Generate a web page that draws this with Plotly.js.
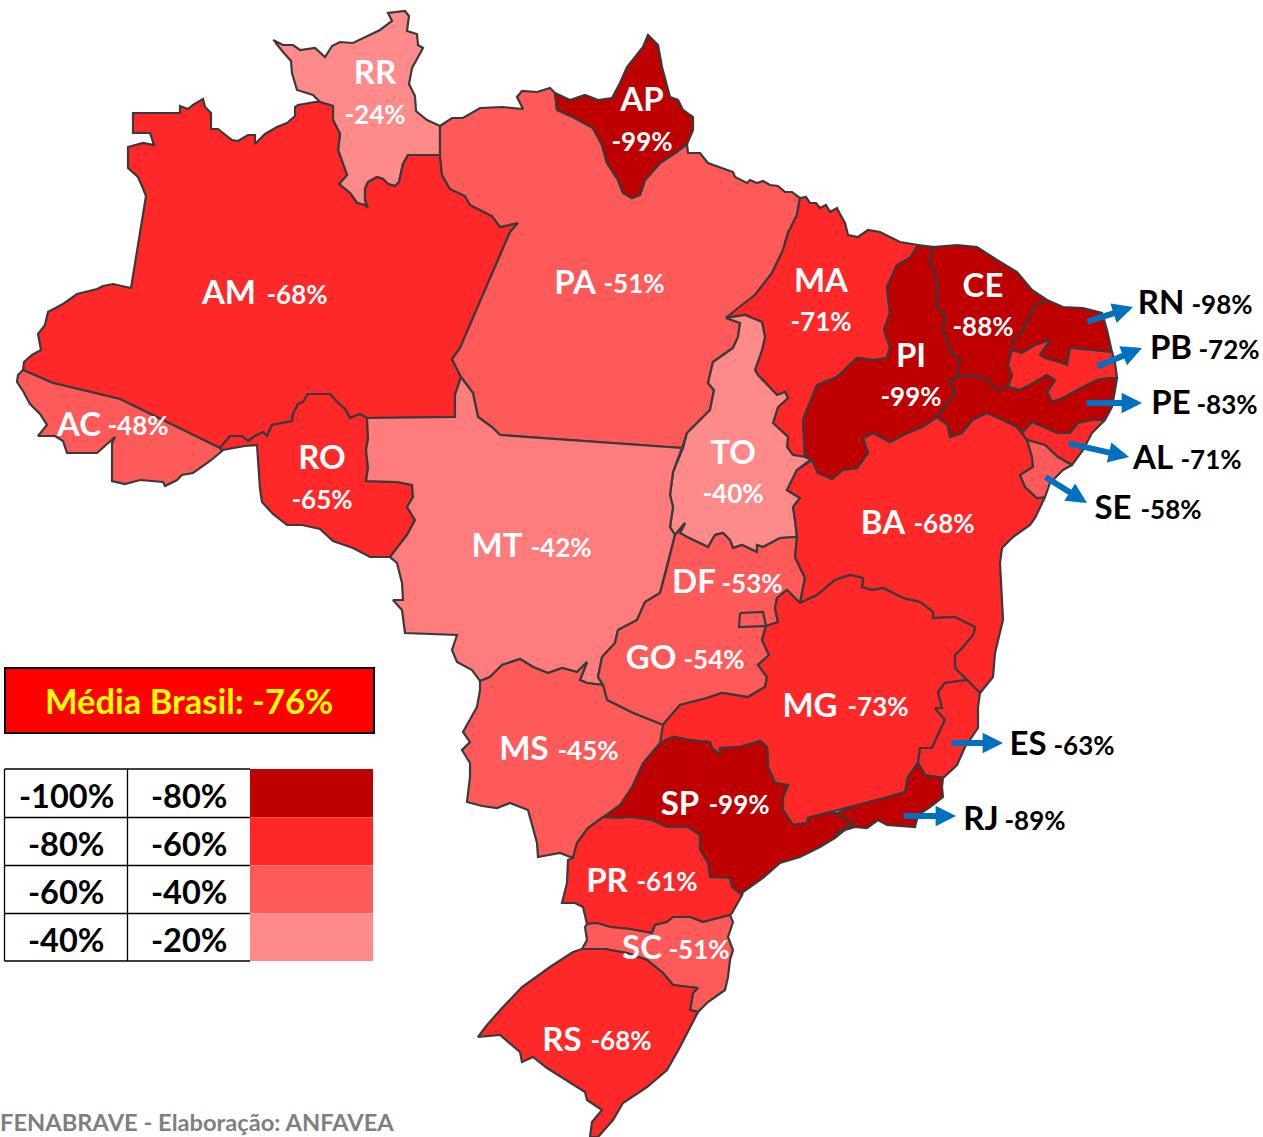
<!DOCTYPE html>
<html><head><meta charset="utf-8">
<script src="https://cdn.plot.ly/plotly-3.0.1.min.js"></script>
<style>html,body{margin:0;padding:0;background:#fff}#map{width:1263px;height:1137px}</style>
</head><body><div id="map"></div>
<script>
const RR=[[273,40],[283,45],[293,45],[300,50],[315,48],[325,57],[332,46],[340,42],[353,43],[367,36],[380,30],[392,21],[388,13],[405,11],[409,16],[407,31],[417,34],[418,45],[423,48],[417,59],[412,68],[409,84],[415,96],[416,111],[427,120],[440,126],[440,155],[408,155],[403,164],[399,182],[395,186],[388,184],[383,179],[377,177],[368,182],[365,189],[365,200],[368,208],[365,205],[357,203],[350,193],[339,184],[347,175],[342,161],[338,150],[340,134],[333,120],[333,106],[320,102],[313,95],[297,90],[292,73],[291,61],[283,52],[275,42]];
const AM=[[320,102],[315,102],[298,105],[295,107],[295,116],[287,123],[277,127],[265,134],[255,144],[255,135],[248,135],[238,141],[232,140],[218,129],[211,129],[211,113],[205,107],[203,99],[193,105],[188,109],[180,106],[180,113],[133,113],[133,133],[150,133],[154,145],[143,143],[128,147],[128,168],[138,177],[142,186],[146,196],[131,288],[122,286],[113,284],[103,286],[97,289],[77,294],[63,304],[48,312],[45,325],[38,334],[41,350],[32,355],[24,362],[23,370],[53,383],[120,399],[220,448],[230,436],[242,436],[248,441],[255,436],[263,432],[267,436],[272,425],[292,421],[293,414],[298,404],[303,402],[308,394],[330,394],[337,402],[345,409],[350,418],[360,414],[367,418],[455,417],[455,395],[461,377],[452,359],[460,348],[510,232],[518,223],[500,227],[492,216],[470,205],[465,196],[450,189],[442,175],[440,155],[408,155],[403,164],[399,182],[395,186],[388,184],[383,179],[377,177],[368,182],[365,189],[365,200],[368,208],[365,205],[357,203],[350,193],[339,184],[347,175],[342,161],[338,150],[340,134],[333,120],[333,106],[320,102]];
const AC=[[23,370],[53,383],[120,399],[220,448],[222,451],[210,461],[193,473],[182,475],[177,480],[165,486],[163,482],[140,480],[125,484],[112,481],[112,443],[115,437],[97,453],[67,453],[63,441],[55,436],[38,436],[47,425],[40,414],[30,404],[23,391],[17,382],[18,375],[23,370]];
const RO=[[220,448],[230,436],[242,436],[248,441],[255,436],[263,432],[267,436],[272,425],[292,421],[293,414],[298,404],[303,402],[308,394],[330,394],[337,402],[345,409],[350,418],[360,414],[367,418],[368,439],[366,450],[368,468],[366,481],[397,482],[412,485],[413,497],[407,507],[415,520],[407,535],[390,557],[370,557],[353,548],[333,541],[320,529],[302,525],[287,525],[273,514],[262,502],[260,489],[258,464],[257,445],[245,446],[222,450],[220,448]];
const PA=[[440,126],[452,118],[463,118],[480,108],[502,107],[523,109],[517,97],[522,91],[537,92],[550,88],[555,93],[557,110],[573,117],[593,128],[602,145],[607,163],[618,180],[623,193],[632,198],[640,195],[645,180],[660,163],[675,153],[687,144],[688,153],[700,153],[708,163],[722,168],[733,172],[735,177],[747,183],[750,180],[757,183],[763,181],[770,185],[778,186],[785,192],[792,192],[800,198],[797,215],[788,233],[783,250],[772,273],[755,295],[738,308],[726,318],[740,323],[738,337],[733,348],[713,362],[708,383],[714,390],[710,410],[687,433],[682,448],[500,435],[492,427],[478,417],[473,393],[461,377],[452,359],[460,348],[510,232],[518,223],[500,227],[492,216],[470,205],[465,196],[450,189],[442,175],[440,155],[440,126]];
const AP=[[555,93],[570,100],[585,95],[598,100],[612,98],[620,83],[627,67],[643,47],[648,35],[658,45],[662,67],[670,97],[678,100],[683,110],[693,117],[693,130],[687,144],[675,153],[660,163],[645,180],[640,195],[632,198],[623,193],[618,180],[607,163],[602,145],[593,128],[573,117],[557,110],[555,93]];
const MA=[[800,198],[806,197],[810,203],[816,203],[820,208],[826,205],[830,212],[837,208],[840,214],[845,223],[848,235],[858,237],[868,230],[880,232],[900,242],[918,245],[910,258],[897,265],[887,287],[890,313],[884,330],[890,347],[887,358],[873,360],[857,358],[837,377],[817,385],[803,420],[805,457],[793,455],[787,447],[788,437],[773,423],[778,407],[788,398],[785,392],[777,395],[758,375],[755,370],[762,350],[765,337],[762,322],[745,315],[726,318],[738,308],[755,295],[772,273],[783,250],[788,233],[797,215],[800,198]];
const TO=[[726,318],[745,315],[762,322],[765,337],[762,350],[755,370],[758,375],[777,395],[785,392],[788,398],[778,407],[773,423],[788,437],[787,447],[793,455],[805,457],[813,458],[797,470],[787,490],[800,498],[793,507],[795,520],[797,537],[780,538],[763,547],[757,545],[757,552],[742,545],[733,548],[730,540],[723,533],[715,535],[708,547],[687,537],[680,533],[685,523],[675,535],[670,527],[673,507],[670,495],[673,472],[683,448],[687,433],[710,410],[714,390],[708,383],[713,362],[733,348],[738,337],[740,323],[726,318]];
const MT=[[500,435],[682,448],[673,472],[670,495],[673,507],[670,527],[675,535],[667,567],[660,593],[645,602],[637,620],[618,630],[615,643],[602,657],[598,677],[603,685],[587,683],[580,680],[587,662],[577,672],[562,668],[548,673],[533,667],[520,659],[502,665],[490,677],[480,681],[472,670],[457,662],[452,650],[457,635],[405,633],[402,610],[393,600],[403,600],[402,583],[397,563],[390,557],[407,535],[415,520],[407,507],[413,497],[412,485],[397,482],[366,481],[368,468],[366,450],[368,439],[367,418],[455,417],[455,395],[461,377],[473,393],[478,417],[492,427],[500,435]];
const GO=[[675,535],[685,523],[680,533],[687,537],[708,547],[715,535],[723,533],[730,540],[733,548],[742,545],[757,552],[757,545],[763,547],[780,538],[797,537],[795,557],[805,578],[800,603],[787,590],[777,598],[775,608],[778,622],[766,626],[762,640],[769,655],[758,665],[767,677],[765,687],[748,697],[722,693],[707,698],[680,705],[667,720],[663,725],[633,713],[613,703],[607,700],[603,685],[598,677],[602,657],[615,643],[618,630],[637,620],[645,602],[660,593],[667,567],[675,535]];
const DF=[[740,613],[763,612],[766,626],[739,627],[740,613]];
const MG=[[800,603],[817,595],[835,580],[850,575],[863,578],[862,587],[872,590],[883,588],[903,598],[920,602],[933,612],[933,618],[955,617],[975,627],[973,635],[962,648],[955,655],[955,668],[967,680],[945,683],[938,692],[942,708],[935,708],[945,720],[937,737],[932,748],[920,748],[918,763],[908,777],[905,792],[888,797],[857,805],[827,813],[808,818],[807,823],[793,825],[783,810],[783,797],[788,785],[775,783],[768,767],[767,747],[760,741],[740,747],[720,748],[720,755],[712,748],[710,742],[690,740],[673,737],[660,743],[661,728],[663,725],[667,720],[680,705],[707,698],[722,693],[748,697],[765,687],[767,677],[758,665],[769,655],[762,640],[766,626],[778,622],[775,608],[777,598],[787,590],[800,603]];
const BA=[[812,460],[818,473],[832,479],[843,470],[857,468],[868,453],[863,438],[873,433],[890,442],[907,433],[922,427],[937,417],[948,425],[950,437],[962,433],[972,420],[987,413],[1003,420],[1017,427],[1022,433],[1027,440],[1032,457],[1033,467],[1020,475],[1025,487],[1037,498],[1045,497],[1035,518],[1030,525],[1013,537],[1002,548],[1000,563],[1003,620],[995,653],[993,677],[980,693],[967,680],[955,668],[955,655],[962,648],[973,635],[975,627],[955,617],[933,618],[933,612],[920,602],[903,598],[883,588],[872,590],[862,587],[863,578],[850,575],[835,580],[817,595],[800,603],[805,578],[795,557],[797,537],[795,520],[793,507],[800,498],[787,490],[797,470],[812,460]];
const ES=[[980,693],[978,707],[978,728],[965,747],[957,765],[943,778],[925,775],[918,763],[920,748],[932,748],[937,737],[945,720],[935,708],[942,708],[938,692],[945,683],[967,680],[980,693]];
const RJ=[[918,763],[925,775],[943,778],[942,787],[943,797],[930,807],[918,815],[915,827],[887,825],[878,820],[867,828],[855,827],[845,830],[835,838],[838,832],[848,827],[853,823],[843,818],[837,813],[857,805],[888,797],[905,792],[908,777],[918,763]];
const SP=[[660,743],[673,737],[690,740],[710,742],[712,748],[720,755],[720,748],[740,747],[760,741],[767,747],[768,767],[775,783],[788,785],[783,797],[783,810],[793,825],[807,823],[808,818],[827,813],[837,813],[843,818],[853,823],[848,827],[838,832],[835,838],[820,847],[800,857],[780,863],[763,878],[743,892],[742,895],[732,887],[730,878],[710,877],[708,863],[700,850],[700,835],[688,827],[667,827],[652,820],[630,817],[618,818],[603,817],[620,805],[632,787],[643,763],[660,743]];
const MS=[[663,725],[660,743],[643,763],[632,787],[620,805],[603,817],[588,828],[577,843],[573,858],[560,853],[538,857],[537,843],[532,823],[528,810],[510,803],[497,808],[482,806],[467,802],[470,777],[470,763],[462,750],[470,742],[463,732],[477,707],[480,690],[480,681],[490,677],[502,665],[520,659],[533,667],[548,673],[562,668],[577,672],[587,662],[580,680],[587,683],[603,685],[607,700],[613,703],[633,713],[663,725]];
const PR=[[603,817],[618,818],[630,817],[652,820],[667,827],[688,827],[700,835],[700,850],[708,863],[710,877],[730,878],[732,887],[742,895],[732,913],[730,915],[703,922],[690,917],[673,917],[667,922],[655,925],[652,933],[630,929],[610,927],[597,923],[587,924],[583,907],[575,903],[562,903],[567,883],[568,860],[573,858],[577,843],[588,828],[603,817]];
const SC=[[587,924],[597,923],[610,927],[630,929],[652,933],[655,925],[667,922],[673,917],[690,917],[703,922],[730,915],[733,922],[728,937],[733,950],[730,960],[728,977],[725,990],[708,1002],[698,1012],[690,1010],[693,993],[698,988],[673,985],[663,973],[647,960],[627,953],[605,949],[582,949],[587,940],[585,927],[587,924]];
const RS=[[582,949],[605,949],[627,953],[647,960],[663,973],[673,985],[698,988],[693,993],[690,1010],[698,1012],[680,1047],[667,1070],[647,1087],[623,1103],[613,1120],[598,1137],[590,1137],[592,1122],[602,1110],[587,1100],[585,1092],[563,1078],[547,1068],[533,1057],[522,1062],[520,1052],[500,1035],[478,1037],[487,1025],[503,1007],[522,987],[550,967],[573,952],[582,949]];
const PI=[[918,245],[933,247],[930,260],[937,280],[937,307],[945,315],[943,330],[952,353],[960,360],[957,377],[950,380],[955,393],[937,417],[922,427],[907,433],[890,442],[873,433],[863,438],[868,453],[857,468],[843,470],[832,479],[818,473],[812,460],[805,457],[803,420],[817,385],[837,377],[857,358],[873,360],[887,358],[890,347],[884,330],[890,313],[887,287],[897,265],[910,258],[918,245]];
const CE=[[933,247],[957,245],[977,247],[997,260],[1017,272],[1032,290],[1047,300],[1035,305],[1023,330],[1012,343],[1012,350],[1008,365],[1012,375],[1008,387],[997,390],[987,380],[973,375],[957,377],[960,360],[952,353],[943,330],[945,315],[937,307],[937,280],[930,260],[933,247]];
const RN=[[1047,300],[1063,307],[1083,308],[1102,313],[1107,330],[1112,352],[1092,350],[1070,348],[1067,365],[1062,363],[1045,358],[1040,355],[1050,340],[1035,345],[1022,353],[1012,350],[1012,343],[1023,330],[1035,305],[1047,300]];
const PB=[[1012,350],[1022,353],[1035,345],[1050,340],[1040,355],[1045,358],[1062,363],[1067,365],[1070,348],[1092,350],[1112,352],[1115,363],[1117,378],[1110,378],[1097,380],[1083,387],[1063,398],[1052,402],[1047,392],[1055,380],[1047,375],[1030,385],[1020,390],[1008,387],[1012,375],[1008,365],[1012,350]];
const PE=[[957,377],[973,375],[987,380],[997,390],[1008,387],[1020,390],[1030,385],[1047,375],[1055,380],[1047,392],[1052,402],[1063,398],[1083,387],[1097,380],[1110,378],[1117,378],[1115,390],[1112,407],[1105,420],[1092,420],[1078,423],[1070,433],[1057,433],[1032,422],[1022,433],[1017,427],[1003,420],[987,413],[972,420],[962,433],[950,437],[948,425],[937,417],[955,393],[950,380],[957,377]];
const AL=[[1105,420],[1092,433],[1083,450],[1072,465],[1058,457],[1045,445],[1027,440],[1022,433],[1032,422],[1057,433],[1070,433],[1078,423],[1092,420],[1105,420]];
const SE=[[1027,440],[1045,445],[1058,457],[1072,465],[1063,470],[1050,483],[1045,497],[1037,498],[1025,487],[1020,475],[1033,467],[1032,457],[1027,440]];

const dark='#BE0000', strong='#FF2828', mid='#FF5A5A', light='#FF8A8A', mtTone='#FF7C7C';
const states=[
 ['RR',RR,light,-24],['AM',AM,strong,-68],['AC',AC,mid,-48],['RO',RO,strong,-65],['PA',PA,mid,-51],['AP',AP,dark,-99],
 ['MA',MA,strong,-71],['TO',TO,light,-40],['MT',MT,mtTone,-42],['GO',GO,mid,-54],['DF',DF,mid,-53],['BA',BA,strong,-68],
 ['MG',MG,strong,-73],['ES',ES,strong,-63],['RJ',RJ,dark,-89],['SP',SP,dark,-99],['MS',MS,mid,-45],['PR',PR,strong,-61],
 ['SC',SC,mid,-51],['RS',RS,strong,-68],['PI',PI,dark,-99],['CE',CE,dark,-88],['RN',RN,dark,-98],['PB',PB,strong,-72],
 ['PE',PE,dark,-83],['AL',AL,strong,-71],['SE',SE,mid,-58]];

// label anchors: code x,y then value x,y
const labelCodes=['AM','RR','AP','PA','MA','CE','PI','RO','AC','TO','MT','DF','GO','MS','MG','BA','SP','PR','SC','RS','RN','PB','PE','AL','SE','ES','RJ'];
const labelValues=[-68,-24,-99,-51,-71,-88,-99,-65,-48,-40,-42,-53,-54,-45,-73,-68,-99,-61,-51,-68,-98,-72,-83,-71,-58,-63,-89];
const codeX=[229,375,642,575,821,983,911,322,79,733,497,694,651,524,810,883,680,607,642,562,1161,1171,1171,1153,1113,1028,981];
const codeY=[296,76,103,286,284,289,359,461,428,456,549,585,661,752,709,526,807,884,951,1043,306,351,406,461,511,747,822];
const valX=[297,375,642,634,821,983,911,322,138,733,561,752,714,588,878,944,739,667,699,621,1222,1229,1227,1211,1171,1084,1035];
const valY=[297,117,144,286,324,329,399,502,428,496,550,586,662,753,709,526,807,884,952,1043,307,352,407,462,512,748,823];
const outsideFrom=20; // labels from RN on are printed beside the map, in black

const arrowTail=[[1086,322],[1096,367],[1085,403],[1067,443],[1044,476],[950,743],[902,816]];
const arrowHead=[[1133,307],[1142,348],[1142,403],[1129,457],[1087,503],[1003,743],[956,816]];

const legendLow=['-100%','-80%','-60%','-40%'];
const legendHigh=['-80%','-60%','-40%','-20%'];
const legendColors=[dark,strong,mid,light];
const rowEdges=[769,817.5,865.5,913.5,961];
const colEdges=[4.5,127.5,250,373];
const avgText='Média Brasil: -76%';
const sourceText='FENABRAVE - Elaboração: ANFAVEA';
const FONT='Lato, Carlito, "Open Sans", sans-serif';

const traces=states.map(s=>({type:'scatter',mode:'lines',name:s[0],x:s[1].map(p=>p[0]),y:s[1].map(p=>p[1]),
  fill:'toself',fillcolor:s[2],line:{color:'#3A3A3A',width:2.2},hoverinfo:'skip'}));
const tint=labelCodes.map((c,i)=>i<outsideFrom?'#FFFFFF':'#000000');
traces.push({type:'scatter',mode:'text',x:codeX,y:codeY,text:labelCodes.map(c=>'<b>'+c+'</b>'),textposition:'middle center',
  textfont:{family:FONT,size:33,color:tint},hoverinfo:'skip'});
traces.push({type:'scatter',mode:'text',x:valX,y:valY,text:labelValues.map(v=>'<b>'+v+'%</b>'),textposition:'middle center',
  textfont:{family:FONT,size:26,color:tint},hoverinfo:'skip'});

const shapes=[];
shapes.push({type:'rect',xref:'x',yref:'y',x0:5,x1:374,y0:668,y1:733,fillcolor:'#FF0000',line:{color:'#000',width:2}});
legendColors.forEach((c,i)=>{
  shapes.push({type:'rect',xref:'x',yref:'y',x0:colEdges[2],x1:colEdges[3],y0:rowEdges[i],y1:rowEdges[i+1],fillcolor:c,line:{width:0}});
});
rowEdges.forEach(y=>shapes.push({type:'line',xref:'x',yref:'y',x0:colEdges[0],x1:colEdges[2],y0:y,y1:y,line:{color:'#000',width:1.3}}));
colEdges.slice(0,2).forEach(x=>shapes.push({type:'line',xref:'x',yref:'y',x0:x,x1:x,y0:rowEdges[0],y1:rowEdges[4],line:{color:'#000',width:1.3}}));

const ann=[];
ann.push({x:189,y:700,xref:'x',yref:'y',text:'<b>'+avgText+'</b>',showarrow:false,font:{family:FONT,size:34.5,color:'#FFFF00'}});
legendLow.forEach((t,i)=>{
  const yc=(rowEdges[i]+rowEdges[i+1])/2+2;
  ann.push({x:66,y:yc,xref:'x',yref:'y',text:'<b>'+t+'</b>',showarrow:false,font:{family:FONT,size:32.5,color:'#000'}});
  ann.push({x:189,y:yc,xref:'x',yref:'y',text:'<b>'+legendHigh[i]+'</b>',showarrow:false,font:{family:FONT,size:32.5,color:'#000'}});
});
ann.push({x:0,xshift:-2,y:1122,xref:'x',yref:'y',xanchor:'left',text:'<b>'+sourceText+'</b>',showarrow:false,font:{family:FONT,size:23.7,color:'#7F7F7F'}});
arrowHead.forEach((h,i)=>ann.push({x:h[0],y:h[1],ax:arrowTail[i][0],ay:arrowTail[i][1],xref:'x',yref:'y',axref:'x',ayref:'y',text:'',
  showarrow:true,arrowhead:2,arrowsize:0.68,arrowwidth:6,arrowcolor:'#0070C0',standoff:0}));

Plotly.newPlot('map',traces,{
  width:1263,height:1137,margin:{l:0,r:0,t:0,b:0},paper_bgcolor:'#fff',plot_bgcolor:'#fff',showlegend:false,
  xaxis:{range:[0,1263],visible:false,fixedrange:true},
  yaxis:{range:[1137,0],visible:false,fixedrange:true},
  shapes:shapes,annotations:ann
},{displayModeBar:false,staticPlot:true});
</script></body></html>
